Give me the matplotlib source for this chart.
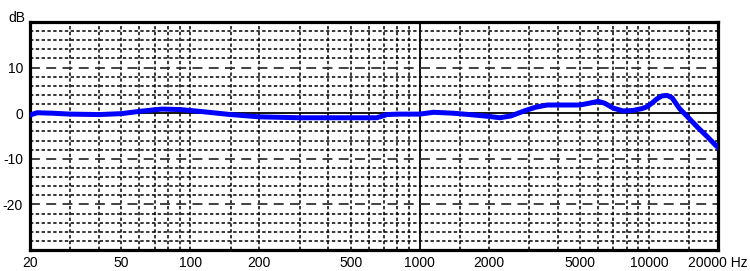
import matplotlib
matplotlib.use("Agg")
import matplotlib.pyplot as plt

# ---- data ----
freq_hz = [20, 21.5, 25, 30, 40, 50, 60, 75, 90, 110, 150, 200, 300, 400, 500,
           600, 650, 690, 720, 800, 1000, 1150, 1400, 1650, 2000, 2240, 2500,
           2860, 3200, 3600, 4500, 5000, 5500, 6000, 6400, 7000, 7700, 8500,
           9300, 9800, 10300, 10800, 11400, 12000, 12600, 13600, 15000, 16300,
           18000, 19500, 20000]
level_db = [-0.4, 0.1, 0.0, -0.2, -0.3, -0.1, 0.4, 0.9, 0.8, 0.4, -0.3, -0.8,
            -1.0, -1.0, -1.0, -1.0, -1.0, -0.6, -0.3, -0.2, -0.2, 0.2, 0.0,
            -0.3, -0.7, -1.0, -0.6, 0.5, 1.3, 1.8, 1.8, 1.8, 2.2, 2.6, 2.2,
            1.1, 0.5, 0.6, 1.0, 1.4, 2.2, 3.1, 3.8, 3.9, 3.4, 1.0, -1.2, -3.1,
            -5.2, -7.0, -7.5]

x_ticks = [20, 50, 100, 200, 500, 1000, 2000, 5000, 10000, 20000]
x_tick_labels = ["20", "50", "100", "200", "500", "1000", "2000", "5000",
                 "10000", "20000 Hz"]
y_ticks = [-20, -10, 0, 10]
y_tick_labels = ["-20", "-10", "0", "10"]
y_label = "dB"

v_grid = [30, 40, 50, 60, 70, 80, 90, 100, 150, 200, 300, 400, 500, 600, 700,
          800, 900, 1500, 2000, 3000, 4000, 5000, 6000, 7000, 8000, 9000,
          10000, 15000]
v_solid = [1000]
h_minor = [-28, -26, -24, -22, -18, -16, -14, -12, -8, -6, -4, -2,
           2, 4, 6, 8, 12, 14, 16, 18]
h_major = [-20, -10, 10]
h_solid = [0]

plt.rcParams['font.family'] = ['Liberation Sans', 'DejaVu Sans']

fig = plt.figure(figsize=(7.5, 2.71), dpi=100)
ax = fig.add_axes([30 / 750, 21 / 271, 688 / 750, 228 / 271])
ax.set_xscale('log')
ax.set_xlim(20, 20000)
ax.set_ylim(-30, 20)

dot = (0, (2.2, 1.6))
for v in v_grid:
    ax.axvline(v, color='black', lw=1.1, linestyle=dot, zorder=1)
for v in v_solid:
    ax.axvline(v, color='black', lw=1.3, zorder=1)
for h in h_minor:
    ax.axhline(h, color='black', lw=1.1, linestyle=dot, zorder=1)
for h in h_major:
    ax.axhline(h, color='#333333', lw=1.3, linestyle=(0, (5.5, 3.5)), zorder=1)
for h in h_solid:
    ax.axhline(h, color='black', lw=1.3, zorder=1)

ax.plot(freq_hz, level_db, color='#0000ff', lw=3.6, solid_joinstyle='round',
        solid_capstyle='round', zorder=3)

ax.set_xticks(x_ticks)
ax.set_xticklabels(x_tick_labels, fontsize=10)
ax.xaxis.set_minor_locator(matplotlib.ticker.NullLocator())
ax.set_yticks(y_ticks)
ax.set_yticklabels(y_tick_labels, fontsize=10)
ax.tick_params(axis='both', length=0, pad=4)
ax.tick_params(axis='y', pad=5)

for s in ax.spines.values():
    s.set_linewidth(2.3)
    s.set_color('black')

fig.text(25 / 750, 1 - 18 / 271, y_label, ha='right', va='center', fontsize=10)

fig.savefig("out.png", dpi=100)
